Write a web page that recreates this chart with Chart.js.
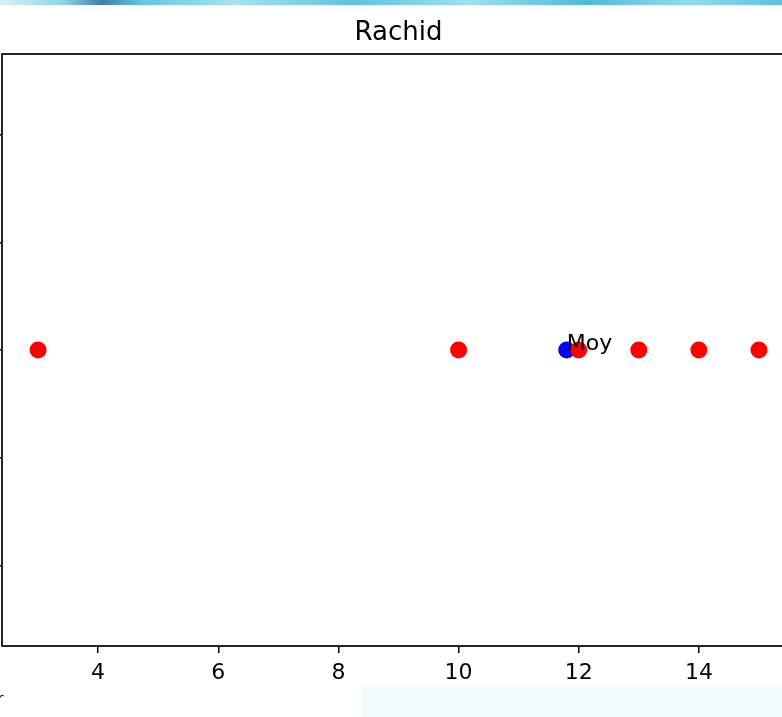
<!DOCTYPE html>
<html>
<head>
<meta charset="utf-8">
<script src="https://cdn.jsdelivr.net/npm/chart.js@4"></script>
<style>
  html, body { margin: 0; padding: 0; background: #fff; overflow: hidden; width: 782px; height: 717px; }
  #bandeau { position: absolute; left: 0; top: 0; width: 782px; height: 5px;
    background: linear-gradient(90deg, #d6f1f8 0%, #8fd6e8 8%, #3f7fa8 13%, #63c6df 18%, #a8e3f0 30%, #5ec3dc 45%, #9fdff0 60%, #4fbad6 75%, #93dbee 88%, #5cc2dd 100%); }
  #graphe { position: absolute; left: -100px; top: 0; }
  #fin { position: absolute; left: -3px; top: 689px; font: 16px "DejaVu Sans", sans-serif; color: #000; }
  #zone { position: absolute; left: 362px; top: 687px; width: 420px; height: 30px; background: #f2fafd; }
</style>
</head>
<body>
<div id="bandeau"></div>
<canvas id="graphe" width="997" height="717"></canvas>
<div id="fin">r</div>
<div id="zone"></div>
<script>
  // Data
  const notes = [3, 10, 12, 13, 14, 15];
  const notesY = [0, 0, 0, 0, 0, 0];
  const moyenne = [11.8];
  const moyenneY = [0];
  const xTicks = [4, 6, 8, 10, 12, 14];
  const yTicks = [-0.04, -0.02, 0, 0.02, 0.04];

  const police = 'DejaVu Sans';

  // matplotlib-like frame and the "Moy" annotation
  const cadre = {
    id: 'cadre',
    afterDatasetsDraw(chart) {
      const { ctx, chartArea: a, scales } = chart;
      ctx.save();
      ctx.strokeStyle = '#000';
      ctx.lineWidth = 1.7;
      ctx.strokeRect(a.left, a.top, a.right - a.left, a.bottom - a.top);
      ctx.fillStyle = '#000';
      ctx.font = '22px "' + police + '"';
      ctx.textAlign = 'left';
      ctx.textBaseline = 'alphabetic';
      ctx.fillText('Moy', scales.x.getPixelForValue(moyenne[0]), scales.y.getPixelForValue(moyenneY[0]));
      ctx.restore();
    }
  };

  new Chart(document.getElementById('graphe'), {
    type: 'scatter',
    data: {
      datasets: [
        {
          label: 'Notes',
          data: notes.map((x, i) => ({ x: x, y: notesY[i] })),
          backgroundColor: '#ff0000',
          borderWidth: 0,
          pointRadius: 8.5,
          order: 0
        },
        {
          label: 'Moy',
          data: moyenne.map((x, i) => ({ x: x, y: moyenneY[i] })),
          backgroundColor: '#0000ff',
          borderWidth: 0,
          pointRadius: 8.5,
          order: 1
        }
      ]
    },
    options: {
      responsive: false,
      animation: false,
      layout: { padding: { left: 0, right: 102, top: 0, bottom: 0 } },
      plugins: {
        legend: { display: false },
        tooltip: { enabled: false },
        title: {
          display: true,
          text: 'Rachid',
          fullSize: false,
          color: '#000',
          font: { family: police, size: 26, weight: 'normal', lineHeight: 1.2 },
          padding: { top: 18, bottom: 4.8 }
        }
      },
      scales: {
        x: {
          type: 'linear',
          min: 2.4,
          max: 15.6,
          afterBuildTicks: s => { s.ticks = xTicks.map(v => ({ value: v })); },
          afterFit: s => { s.height = 71; },
          border: { display: false },
          grid: { drawOnChartArea: false, drawTicks: true, tickLength: 7, color: '#000', lineWidth: 1.5 },
          ticks: { color: '#000', padding: 7, font: { family: police, size: 22 } }
        },
        y: {
          type: 'linear',
          min: -0.055,
          max: 0.055,
          afterBuildTicks: s => { s.ticks = yTicks.map(v => ({ value: v })); },
          afterFit: s => { s.width = 102; },
          border: { display: false },
          grid: { drawOnChartArea: false, drawTicks: true, tickLength: 7, color: '#000', lineWidth: 1.5 },
          ticks: { color: '#000', padding: 5, font: { family: police, size: 22 },
                   callback: v => v.toFixed(2).replace('-', '\u2212') }
        }
      }
    },
    plugins: [cadre]
  });
</script>
</body>
</html>
